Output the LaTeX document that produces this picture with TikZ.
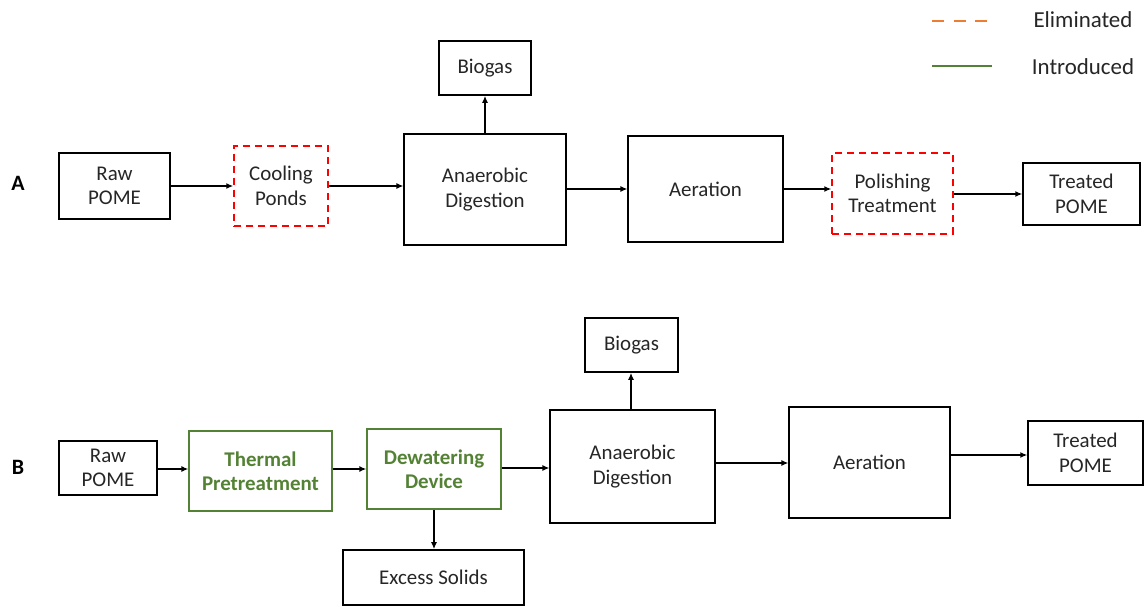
\documentclass[tikz,border=0pt]{standalone}
\usepackage{fontspec}
\setmainfont{Carlito}
\usetikzlibrary{arrows.meta}
\definecolor{gr}{HTML}{548235}
\definecolor{org}{HTML}{ED7D31}
\tikzset{
  box/.style={draw, line width=1.8bp, inner sep=0pt, align=center, text=black!85,
    font=\fontsize{21}{24.6}\selectfont},
  elim/.style={box, draw=red, dash pattern=on 7bp off 5bp},
  intro/.style={box, draw=gr, text=gr, font=\fontsize{21}{24.6}\selectfont\bfseries},
  arr/.style={line width=2.2bp, -{Latex[length=7bp,width=6bp]}},
  lbl/.style={font=\fontsize{22}{26}\selectfont\bfseries},
  legtxt/.style={font=\fontsize{23}{27}\selectfont, text=black!85}
}
\begin{document}
\begin{tikzpicture}[x=1bp,y=-1bp]
\useasboundingbox[fill=white] (0,0) rectangle (1146,606);
% legend
\coordinate (l1a) at (932,21); \coordinate (l1b) at (987,21);
\coordinate (l2a) at (932,66); \coordinate (l2b) at (992,66);
\draw[org, line width=2.5bp, dash pattern=on 12bp off 9.5bp] (l1a) -- (l1b);
\draw[gr, line width=2.5bp] (l2a) -- (l2b);
\node[legtxt] (leg1) at (1083,20) {Eliminated};
\node[legtxt] (leg2) at (1083,67) {Introduced};
% row A
\node[lbl] (labA) at (18,183) {A};
\node[box, minimum width=111, minimum height=66] (rawA) at (114.5,186) {Raw\\POME};
\node[elim, minimum width=94, minimum height=81] (cool) at (281,186) {Cooling\\Ponds};
\node[box, minimum width=162, minimum height=111] (adA) at (485,189.5) {Anaerobic\\Digestion};
\node[box, minimum width=92, minimum height=54] (bioA) at (485,68) {Biogas};
\node[box, minimum width=155, minimum height=107] (aerA) at (705.5,189) {Aeration};
\node[elim, minimum width=121, minimum height=81] (pol) at (892.5,193.5) {Polishing\\Treatment};
\node[box, minimum width=117, minimum height=62] (trA) at (1081.5,194) {Treated\\POME};
\draw[arr] (rawA.east) -- (cool.west |- rawA.east);
\draw[arr] (cool.east) -- (adA.west |- cool.east);
\draw[arr] (adA.north) -- (bioA.south);
\draw[arr] (aerA.west -| adA.east) -- (aerA.west);
\draw[arr] (aerA.east) -- (pol.west |- aerA.east);
\draw[arr] (trA.west -| pol.east) -- (trA.west);
% row B
\node[lbl] (labB) at (18,467) {B};
\node[box, minimum width=98, minimum height=54] (rawB) at (108,468) {Raw\\POME};
\node[intro, minimum width=143, minimum height=80] (therm) at (260.5,471) {Thermal\\Pretreatment};
\node[intro, minimum width=134, minimum height=80] (dew) at (434,469) {Dewatering\\Device};
\node[box, minimum width=181, minimum height=55] (exc) at (433.5,577.5) {Excess Solids};
\node[box, minimum width=165, minimum height=113] (adB) at (632.5,466.5) {Anaerobic\\Digestion};
\node[box, minimum width=93, minimum height=54] (bioB) at (631.5,345) {Biogas};
\node[box, minimum width=161, minimum height=111] (aerB) at (869.5,462.5) {Aeration};
\node[box, minimum width=115, minimum height=64] (trB) at (1085.5,453) {Treated\\POME};
\coordinate (b1) at (108,469); \coordinate (b2) at (434,468); \coordinate (b3) at (869.5,463);
\coordinate (b4) at (869.5,455); \coordinate (b5) at (631,345);
\draw[arr] (rawB.east |- b1) -- (therm.west |- b1);
\draw[arr] (therm.east |- dew) -- (dew.west);
\draw[arr] (dew.east |- b2) -- (adB.west |- b2);
\draw[arr] (dew.south) -- (exc.north -| dew.south);
\draw[arr] (adB.north -| b5) -- (bioB.south -| b5);
\draw[arr] (adB.east |- b3) -- (aerB.west |- b3);
\draw[arr] (aerB.east |- b4) -- (trB.west |- b4);
\end{tikzpicture}
\end{document}
